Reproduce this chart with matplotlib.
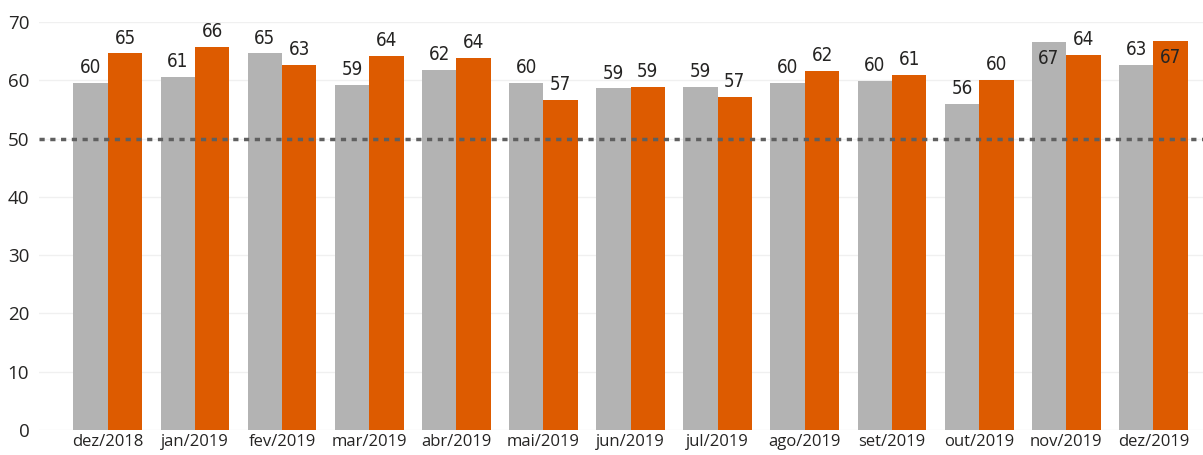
import matplotlib.pyplot as plt
import numpy as np

meses = ['dez/2018', 'jan/2019', 'fev/2019', 'mar/2019', 'abr/2019', 'mai/2019', 'jun/2019',
         'jul/2019', 'ago/2019', 'set/2019', 'out/2019', 'nov/2019', 'dez/2019']
serie_cinza = [59.6, 60.6, 64.6, 59.2, 61.8, 59.6, 58.6, 58.8, 59.6, 59.9, 56.0, 66.6, 62.6]
serie_laranja = [64.6, 65.7, 62.7, 64.2, 63.8, 56.6, 58.9, 57.2, 61.6, 60.9, 60.0, 64.3, 66.8]
meta = 50

cor_cinza = '#b3b3b3'
cor_laranja = '#dd5b00'
cor_texto = '#252423'

fig = plt.figure(figsize=(12.03, 4.55), dpi=100)
ax = fig.add_axes([39 / 1203, 1 - 430 / 455, 1 - 39 / 1203, (430 - 22) / 455])

x = np.arange(len(meses))
w = 0.395
b1 = ax.bar(x - w / 2, serie_cinza, w, color=cor_cinza, zorder=2)
b2 = ax.bar(x + w / 2, serie_laranja, w, color=cor_laranja, zorder=2)

ax.set_xlim(-0.79, 12.57)
ax.set_ylim(0, 70)
ax.set_yticks(range(0, 71, 10))
ax.grid(axis='y', color='#f0f0f0', linewidth=1, zorder=0)
ax.axhline(meta, color='#5f5f5f', linewidth=2.5, linestyle=(0, (1.5, 1.6)), zorder=3)

for s in ax.spines.values():
    s.set_visible(False)
ax.tick_params(length=0)
ax.set_xticks(x)
ax.set_xticklabels(meses, fontsize=12, color=cor_texto, family=['Open Sans', 'DejaVu Sans'])
for lab in ax.get_yticklabels():
    lab.set_fontsize(13.5)
    lab.set_color(cor_texto)
    lab.set_family(['Open Sans', 'DejaVu Sans'])
ax.tick_params(axis='y', pad=7)
ax.tick_params(axis='x', pad=3)

for barras in (b1, b2):
    for r in barras:
        v = r.get_height()
        cx = r.get_x() + r.get_width() / 2
        if v > 66:
            ax.text(cx, v - 1.3, f'{v:.0f}', ha='center', va='top', fontsize=13.5,
                    color=cor_texto, family='DejaVu Sans', fontstretch='condensed',
                    fontweight='medium', zorder=4)
        else:
            ax.text(cx, v + 1.0, f'{v:.0f}', ha='center', va='bottom', fontsize=13.5,
                    color=cor_texto, family='DejaVu Sans', fontstretch='condensed',
                    fontweight='medium', zorder=4)

fig.savefig('out.png', dpi=100)
